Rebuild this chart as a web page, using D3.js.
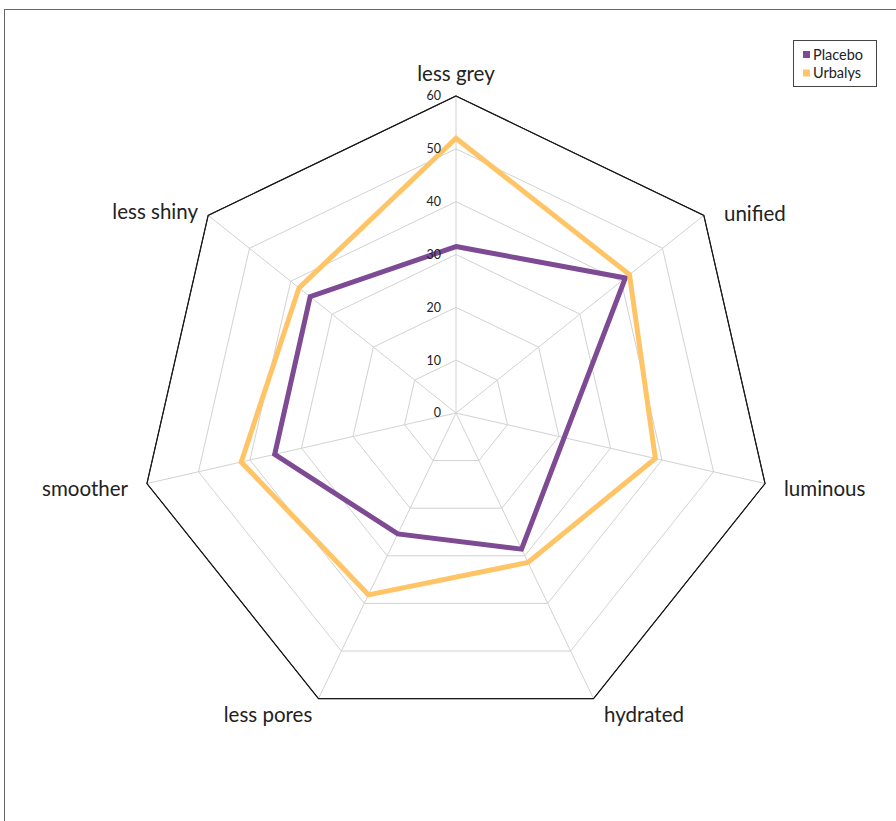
<!DOCTYPE html>
<html><head><meta charset="utf-8">
<script src="https://cdn.jsdelivr.net/npm/d3@7"></script>
<style>body{margin:0;background:#fff}svg{display:block}</style>
</head><body>
<svg id="c" width="896" height="821"></svg>
<script>
const categories = ["less grey","unified","luminous","hydrated","less pores","smoother","less shiny"];
const seriesNames = ["Placebo","Urbalys"];
const placebo = [31.5, 41, 21, 28.6, 25.4, 35.2, 35.3];
const urbalys = [52, 42, 38.7, 31.4, 38.2, 41.7, 38];
const tickValues = [0,10,20,30,40,50,60];
const colors = ["#7d4a93","#ffc466"];

const svg = d3.select("#c");
const cx = 456, cy = 413, R = 317;
const r = d3.scaleLinear().domain([0,60]).range([0,R]);
const ang = d3.scalePoint().domain(categories.map((d,i)=>i)).range([0, 2*Math.PI*(categories.length-1)/categories.length]);
const pt = (i,v)=>[cx + r(v)*Math.sin(ang(i)), cy - r(v)*Math.cos(ang(i))];

// frame
svg.append("rect").attr("x",4.5).attr("y",9.5).attr("width",1000).attr("height",1000)
  .attr("fill","none").attr("stroke","#666").attr("stroke-width",1);

const g = svg.append("g");
// grid rings
tickValues.slice(1).forEach(t=>{
  g.append("polygon").attr("points", categories.map((c,i)=>pt(i,t).join(",")).join(" "))
   .attr("fill","none").attr("stroke", t===60?"#1a1a1a":"#d2d2d2").attr("stroke-width",1);
});
// spokes
categories.forEach((c,i)=>{
  const [x,y]=pt(i,60);
  g.append("line").attr("x1",cx).attr("y1",cy).attr("x2",x).attr("y2",y)
   .attr("stroke","#d2d2d2").attr("stroke-width",1);
});
// redraw outer ring on top
g.append("polygon").attr("points", categories.map((c,i)=>pt(i,60).join(",")).join(" "))
 .attr("fill","none").attr("stroke","#1a1a1a").attr("stroke-width",1.2);

// series
const line = d3.line().curve(d3.curveLinearClosed);
[placebo, urbalys].forEach((vals,k)=>{
  g.append("path").attr("d", line(vals.map((v,i)=>pt(i,v))))
   .attr("fill","none").attr("stroke",colors[k]).attr("stroke-width",5).attr("stroke-linejoin","miter");
});

// tick labels
tickValues.forEach(t=>{
  g.append("text").attr("x",441).attr("y",cy - r(t)).attr("dy","0.35em")
   .attr("text-anchor","end").attr("font-family","Lato, 'Open Sans', sans-serif")
   .attr("font-size",12.5).attr("fill","#222").text(t);
});

// category labels
const lab = [
  {x:456,y:74,a:"middle"},
  {x:724,y:214,a:"start"},
  {x:784,y:489,a:"start"},
  {x:644,y:715,a:"middle"},
  {x:268,y:715,a:"middle"},
  {x:128,y:489,a:"end"},
  {x:198,y:212,a:"end"}
];
categories.forEach((c,i)=>{
  g.append("text").attr("x",lab[i].x).attr("y",lab[i].y).attr("dy","0.35em")
   .attr("text-anchor",lab[i].a).attr("font-family","Lato, 'Open Sans', sans-serif")
   .attr("font-size",20.5).attr("fill","#222").text(c);
});

// legend
const lg = svg.append("g");
lg.append("rect").attr("x",793.5).attr("y",40.5).attr("width",83).attr("height",46)
  .attr("fill","#fff").attr("stroke","#444").attr("stroke-width",1);
seriesNames.forEach((s,k)=>{
  lg.append("rect").attr("x",803).attr("y",51+k*18.5).attr("width",7).attr("height",7).attr("fill",colors[k]);
  lg.append("text").attr("x",813).attr("y",54.5+k*18.5).attr("dy","0.35em")
    .attr("font-family","Lato, 'Open Sans', sans-serif").attr("font-size",14.5).attr("fill","#222").text(s);
});
</script>
</body></html>
